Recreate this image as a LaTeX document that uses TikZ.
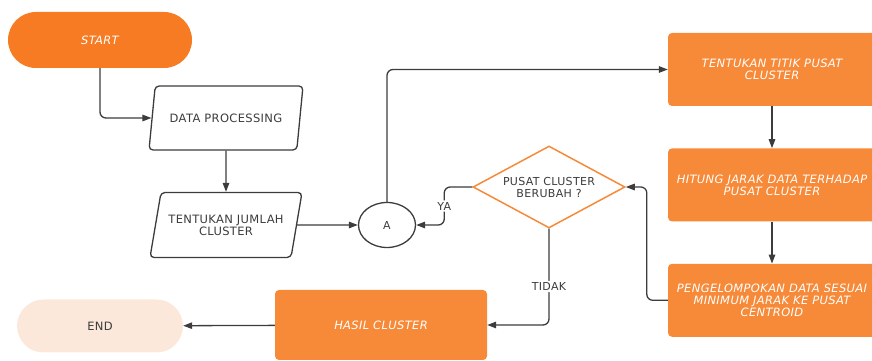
\documentclass[tikz,border=0pt]{standalone}
\usepackage{fontspec}
\setmainfont{DejaVu Sans}[LetterSpace=3]
\usetikzlibrary{arrows.meta,positioning,shapes.geometric}
\definecolor{orng}{HTML}{F68A38}
\definecolor{deeporng}{HTML}{F67B22}
\definecolor{peach}{HTML}{FCE8DA}
\definecolor{ink}{HTML}{3C3C3C}

\begin{document}
\begin{tikzpicture}[x=1pt,y=1pt,
  node distance=42pt and 20pt,
  proc/.style={rectangle,fill=orng,rounded corners=4pt,minimum width=208pt,
    minimum height=73pt,align=center,text=white,font=\fontsize{11.5}{12}\selectfont\itshape},
  io/.style={trapezium,trapezium left angle=68,trapezium right angle=112,
    trapezium stretches body,draw=ink,line width=1.3pt,rounded corners=4pt,
    minimum width=154pt,minimum height=64pt,align=center,text=ink,
    font=\fontsize{11.5}{12}\selectfont},
  term/.style={rectangle,minimum width=184pt,minimum height=56pt,
    rounded corners=28pt,font=\fontsize{11.5}{12}\selectfont},
  arr/.style={-{Triangle[length=9pt,width=6.5pt]},line width=1.3pt,ink,rounded corners=6pt},
  lbl/.style={fill=white,inner sep=1.5pt,text=ink,font=\fontsize{11}{12}\selectfont}]
\useasboundingbox (0,0) rectangle (872,361);
\node[term,fill=deeporng,text=white,font=\fontsize{11.5}{12}\selectfont\itshape] (start) at (100,321) {START};
\node[io] (dp) at (226,243) {DATA PROCESSING};
\node[io,minimum width=152pt,minimum height=65pt] (tjc) at (226,136) {TENTUKAN JUMLAH\\CLUSTER};
\node[ellipse,draw=ink,line width=1.3pt,minimum width=57pt,minimum height=45pt,
  text=ink,font=\fontsize{11}{12}\selectfont] (a) at (387,136) {A};
\node[proc] (ttpc) at (772,291.5) {TENTUKAN TITIK PUSAT\\CLUSTER};
\node[proc,below=of ttpc] (hj) {HITUNG JARAK DATA TERHADAP\\PUSAT CLUSTER};
\node[proc,below=of hj] (pk) {PENGELOMPOKAN DATA SESUAI\\MINIMUM JARAK KE PUSAT\\CENTROID};
\node[diamond,draw=orng,line width=1.5pt,fill=white,shape aspect=1.9,inner sep=0pt,
  minimum width=152pt,minimum height=82pt,align=center,text=ink,
  font=\fontsize{11}{12}\selectfont] (dec) at (549,174) {PUSAT CLUSTER\\BERUBAH ?};
\node[proc,minimum width=212pt,minimum height=70pt] (hasil) at (381,36) {HASIL CLUSTER};
\node[term,fill=peach,text=ink,minimum width=166pt,minimum height=53pt,
  rounded corners=26.5pt] (end) at (100,35) {END};
\draw[arr] (start) |- (dp);
\draw[arr] (dp) -- (tjc);
\draw[arr] (tjc) -- (a);
\draw[arr] (a) |- (ttpc);
\draw[arr] (ttpc) -- (hj);
\draw[arr] (hj) -- (pk);
\draw[arr] (pk.west) -- ++(-21,0) |- (dec.east);
\draw[arr] (dec.west) -- ++(-28,0) |- node[lbl,pos=0.25]{YA} (a.east);
\draw[arr] (dec.south) |- node[lbl,pos=0.3]{TIDAK} (hasil.east);
\draw[arr] (hasil) -- (end);
\end{tikzpicture}
\end{document}
